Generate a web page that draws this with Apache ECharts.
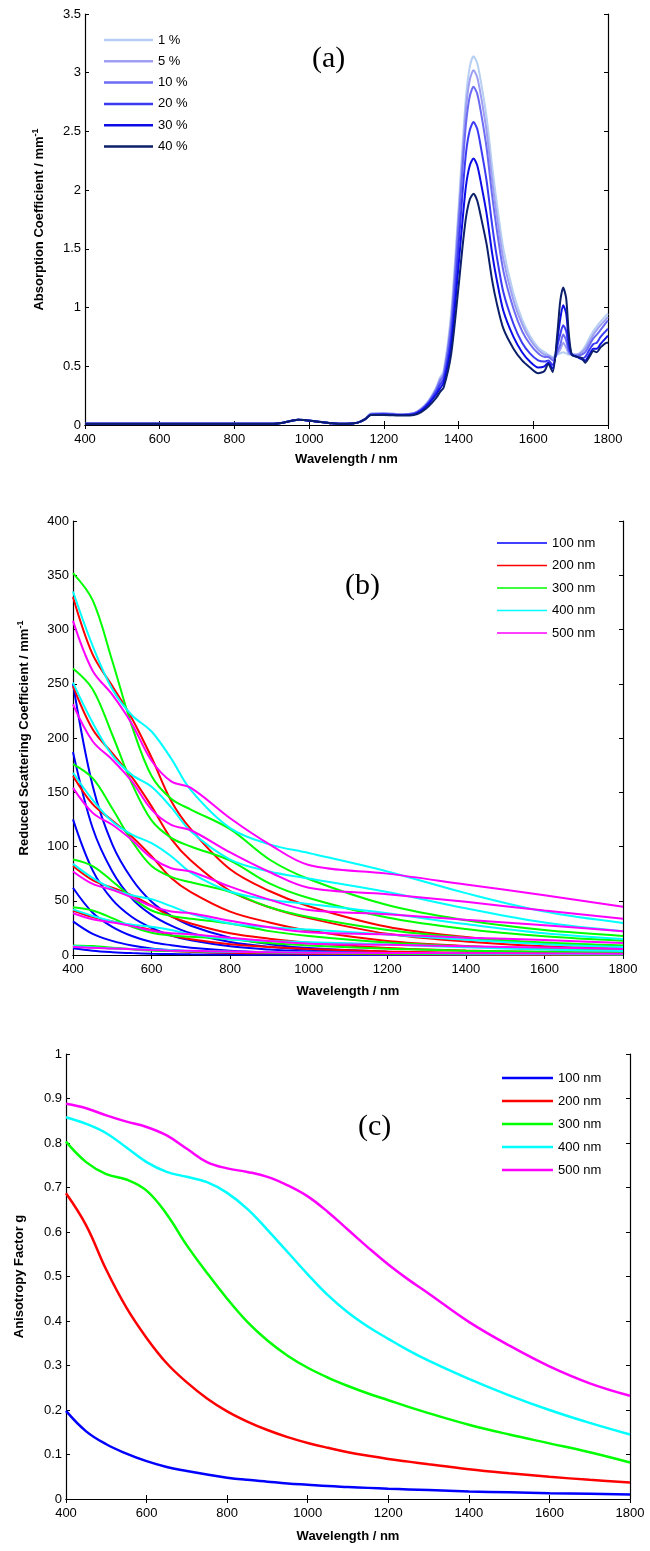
<!DOCTYPE html>
<html><head><meta charset="utf-8">
<script src="https://cdn.jsdelivr.net/npm/echarts@6/dist/echarts.min.js"></script>
<style>html,body{margin:0;padding:0;background:#fff}#c{width:650px;height:1551px}</style>
</head><body><div id="c"></div>
<script>
// ---------- Panel (a): absorption coefficient ----------
const wlA = [400,900,930,970,1010,1060,1100,1130,1150,1165,1200,1250,1280,1300,1320,1340,1350,1360,1380,1400,1410,1420,1430,1440,1450,1460,1475,1490,1502,1520,1547,1570,1591,1613,1630,1640,1652,1665,1672,1680,1688,1695,1703,1717,1730,1739,1750,1761,1770,1780,1797,1800];
const concNamesA = ['1 %','5 %','10 %','20 %','30 %','40 %'];
const absA1  = [0.01,0.01,0.02,0.045,0.035,0.015,0.01,0.02,0.05,0.1,0.1,0.09,0.1,0.14,0.21,0.32,0.4,0.46,0.95,1.85,2.35,2.8,3.05,3.14,3.08,2.92,2.62,2.2,1.9,1.5,1.12,0.9,0.76,0.66,0.62,0.6,0.58,0.6,0.61,0.62,0.61,0.6,0.6,0.6,0.63,0.67,0.74,0.8,0.84,0.88,0.94,0.95];
const absA5  = [0.01,0.01,0.02,0.045,0.035,0.015,0.01,0.02,0.05,0.095,0.1,0.09,0.1,0.14,0.2,0.31,0.39,0.44,0.9,1.78,2.26,2.7,2.94,3.02,2.96,2.8,2.5,2.08,1.79,1.41,1.06,0.86,0.73,0.64,0.6,0.59,0.57,0.61,0.64,0.7,0.66,0.61,0.6,0.6,0.62,0.65,0.71,0.77,0.81,0.85,0.91,0.92];
const absA10 = [0.01,0.01,0.02,0.045,0.035,0.015,0.01,0.02,0.05,0.09,0.095,0.09,0.1,0.13,0.2,0.3,0.37,0.42,0.85,1.7,2.16,2.57,2.8,2.88,2.82,2.66,2.36,1.95,1.67,1.31,0.99,0.8,0.69,0.61,0.58,0.58,0.55,0.63,0.68,0.77,0.72,0.63,0.6,0.59,0.6,0.62,0.68,0.74,0.77,0.81,0.88,0.89];
const absA20 = [0.01,0.01,0.02,0.045,0.035,0.015,0.01,0.02,0.05,0.09,0.09,0.085,0.095,0.13,0.19,0.28,0.34,0.39,0.76,1.53,1.95,2.32,2.51,2.58,2.52,2.36,2.08,1.7,1.44,1.13,0.86,0.7,0.61,0.55,0.54,0.55,0.51,0.68,0.77,0.85,0.8,0.66,0.6,0.58,0.57,0.58,0.64,0.69,0.7,0.75,0.81,0.82];
const absA30 = [0.01,0.01,0.02,0.045,0.035,0.015,0.01,0.02,0.05,0.085,0.09,0.085,0.09,0.12,0.18,0.26,0.31,0.36,0.68,1.36,1.72,2.04,2.21,2.27,2.21,2.06,1.8,1.46,1.24,0.97,0.75,0.62,0.54,0.49,0.5,0.53,0.48,0.74,0.9,1.02,0.95,0.72,0.6,0.58,0.56,0.55,0.6,0.65,0.65,0.69,0.75,0.76];
const absA40 = [0.01,0.01,0.02,0.045,0.035,0.015,0.01,0.02,0.05,0.085,0.085,0.08,0.085,0.11,0.16,0.23,0.28,0.32,0.6,1.18,1.5,1.77,1.92,1.97,1.91,1.77,1.54,1.23,1.04,0.82,0.65,0.55,0.49,0.44,0.46,0.52,0.45,0.8,1.05,1.17,1.08,0.78,0.6,0.58,0.57,0.53,0.58,0.63,0.62,0.66,0.7,0.7];
const colorsA = ['#b6cff3','#9e9ef3','#6b6bf4','#3a3af4','#0c0ce6','#0b1f6b'];

// ---------- Panel (b): reduced scattering coefficient ----------
const wlB = [400,450,500,550,600,650,700,800,900,1000,1200,1400,1600,1800];
const sizeNames = ['100 nm','200 nm','300 nm','400 nm','500 nm'];
const sizeColors = ['#0000ff','#ff0000','#00ff00','#00ffff','#ff00ff'];
// rows: 40 %, 30 %, 20 %, 10 %, 5 %, 1 %
const musp100 = [
 [250,156,102,70,49,36,27,16,10,6.4,3.1,1.7,1.0,0.6],
 [187,117,77,52,37,27,20,12,7.5,4.8,2.3,1.3,0.75,0.45],
 [125,78,51,35,25,18,13.5,8,5,3.2,1.6,0.85,0.5,0.3],
 [62,39,26,17.5,12,9,6.7,4,2.5,1.6,0.8,0.4,0.25,0.15],
 [31,19.5,13,8.8,6.1,4.5,3.4,2,1.25,0.8,0.4,0.2,0.12,0.08],
 [6.2,3.9,2.6,1.75,1.2,0.9,0.67,0.4,0.25,0.16,0.08,0.04,0.025,0.015]
];
const musp200 = [
 [330,277,248,218,182,142,116,79,59,45,26,16.5,10.6,7.3],
 [248,208,186,164,137,107,87,59,44,34,19.5,12.4,8,5.5],
 [165,139,124,109,91,71,58,40,30,22.5,13,8.3,5.3,3.7],
 [82,69,62,55,45.5,35.5,29,20,15,11.3,6.5,4.1,2.7,1.8],
 [41,35,31,27,23,18,14.5,10,7.4,5.6,3.3,2.1,1.3,0.9],
 [8.2,6.9,6.2,5.5,4.6,3.6,2.9,2,1.5,1.1,0.65,0.41,0.27,0.18]
];
const musp300 = [
 [352,327,271,211,165,144,134,116,88,70,46,32,23,17.6],
 [264,245,203,158,124,108,100,87,66,52.5,34.5,24,17.3,13.2],
 [176,163,135,105,82,72,67,58,44,35,23,16,11.5,8.8],
 [88,82,68,53,41,36,33.5,29,22,17.5,11.5,8,5.8,4.4],
 [44,41,34,26,20.6,18,16.8,14.5,11,8.8,5.8,4,2.9,2.2],
 [8.8,8.2,6.8,5.3,4.1,3.6,3.4,2.9,2.2,1.75,1.15,0.8,0.58,0.44]
];
const musp400 = [
 [335,285,245,221,206,181,152,117,102,94,77,57,40,29.5],
 [251,214,184,166,155,136,114,88,77,70.5,58,43,30,22],
 [168,143,123,111,103,91,76,58.5,51,47,38.5,28.5,20,14.8],
 [84,71,61,55,51.5,45,38,29,25.5,23.5,19,14,10,7.4],
 [42,36,31,28,26,23,19,14.6,12.8,11.8,9.6,7.1,5,3.7],
 [8.4,7.1,6.1,5.5,5.2,4.5,3.8,2.9,2.6,2.35,1.9,1.4,1,0.74]
];
const musp500 = [
 [308,262,240,213,179,160,154,126,102,83,75,65,55,44.5],
 [231,197,180,160,134,120,115,94.5,76.5,62,56,49,41,33.4],
 [154,131,120,106,89.5,80,77,63,51,41.5,37.5,32.5,27.5,22],
 [77,65.5,60,53,45,40,38.5,31.5,25.5,21,18.8,16,13.8,11],
 [38.5,33,30,26.6,22.4,20,19.2,15.8,12.8,10.4,9.4,8,6.9,5.6],
 [7.7,6.6,6,5.3,4.5,4,3.85,3.15,2.55,2.1,1.9,1.6,1.4,1.1]
];

// ---------- Panel (c): anisotropy factor ----------
const wlC = [400,450,500,550,600,650,700,750,800,850,900,950,1000,1050,1100,1150,1200,1250,1300,1400,1500,1600,1700,1800];
const g100 = [0.198,0.152,0.123,0.102,0.085,0.072,0.063,0.055,0.048,0.043,0.039,0.035,0.032,0.029,0.027,0.025,0.023,0.0215,0.02,0.017,0.015,0.013,0.012,0.01];
const g200 = [0.687,0.615,0.515,0.43,0.362,0.305,0.262,0.226,0.197,0.174,0.155,0.139,0.126,0.115,0.105,0.097,0.09,0.084,0.078,0.067,0.058,0.05,0.043,0.037];
const g300 = [0.803,0.757,0.73,0.718,0.693,0.64,0.57,0.508,0.45,0.398,0.356,0.322,0.295,0.273,0.254,0.237,0.222,0.207,0.193,0.167,0.145,0.125,0.105,0.082];
const g400 = [0.858,0.843,0.822,0.79,0.757,0.735,0.724,0.712,0.688,0.652,0.605,0.555,0.505,0.458,0.419,0.387,0.36,0.334,0.311,0.27,0.233,0.2,0.171,0.145];
const g500 = [0.888,0.878,0.862,0.848,0.836,0.817,0.787,0.757,0.743,0.735,0.724,0.705,0.68,0.645,0.605,0.565,0.527,0.493,0.462,0.398,0.345,0.298,0.26,0.232];

// ---------- build ----------
const FF = '"Liberation Sans", Arial, sans-serif';
const pair = (xs, ys) => xs.map((x, i) => [x, ys[i]]);
const plain = v => String(Math.round(v * 1000) / 1000);

const grids = [
  {left: 85, top: 14, width: 523, height: 411},
  {left: 73, top: 521, width: 550, height: 434},
  {left: 66, top: 1054, width: 564, height: 445}
];
const axisLineS = {show: true, lineStyle: {color: '#000', width: 1.2}};
const tickIn = {show: true, inside: true, length: 4, lineStyle: {color: '#000'}};
const lblS = {color: '#000', fontSize: 13, fontFamily: FF, formatter: plain};
function xAxes(gi, nameGap) {
  return [
    {type: 'value', gridIndex: gi, min: 400, max: 1800, interval: 200, position: 'bottom',
     axisLine: axisLineS, axisTick: tickIn, splitLine: {show: false},
     axisLabel: Object.assign({margin: 8}, lblS),
     name: 'Wavelength / nm', nameLocation: 'middle', nameGap: nameGap,
     nameTextStyle: {color: '#000', fontSize: 13, fontWeight: 'bold', fontFamily: FF}},
    {type: 'value', gridIndex: gi, min: 400, max: 1800, interval: 200, position: 'top',
     axisLine: axisLineS, axisTick: tickIn, splitLine: {show: false}, axisLabel: {show: false}}
  ];
}
function yAxes(gi, max, interval, name, nameGap, rich) {
  const left = {type: 'value', gridIndex: gi, min: 0, max: max, interval: interval, position: 'left',
     axisLine: axisLineS, axisTick: tickIn, splitLine: {show: false},
     axisLabel: Object.assign({margin: 4}, lblS),
     name: name, nameLocation: 'middle', nameGap: nameGap, nameRotate: 90,
     nameTextStyle: {color: '#000', fontSize: 13, fontWeight: 'bold', fontFamily: FF, rich: rich}};
  const right = {type: 'value', gridIndex: gi, min: 0, max: max, interval: interval, position: 'right',
     axisLine: axisLineS, axisTick: tickIn, splitLine: {show: false}, axisLabel: {show: false}};
  return [left, right];
}
const richSup = {
  t: {fontSize: 13, fontWeight: 'bold', fontFamily: FF, color: '#000'},
  s: {fontSize: 9, fontWeight: 'bold', fontFamily: FF, color: '#000', padding: [0, 0, 8, 0]}
};

const series = [];
const absSets = [absA1, absA5, absA10, absA20, absA30, absA40];
absSets.forEach((arr, i) => {
  series.push({name: concNamesA[i], type: 'line', xAxisIndex: 0, yAxisIndex: 0,
    data: pair(wlA, arr), symbol: 'none', smooth: 0.25, silent: true,
    lineStyle: {color: colorsA[i], width: 2}, itemStyle: {color: colorsA[i]}});
});
const muspSets = [musp100, musp200, musp300, musp400, musp500];
muspSets.forEach((rows, si) => {
  rows.forEach(row => {
    series.push({name: sizeNames[si], type: 'line', xAxisIndex: 2, yAxisIndex: 2,
      data: pair(wlB, row), symbol: 'none', smooth: 0.35, silent: true,
      lineStyle: {color: sizeColors[si], width: 2}, itemStyle: {color: sizeColors[si]}});
  });
});
const gSets = [g100, g200, g300, g400, g500];
gSets.forEach((arr, si) => {
  series.push({name: sizeNames[si], type: 'line', xAxisIndex: 4, yAxisIndex: 4,
    data: pair(wlC, arr), symbol: 'none', smooth: 0.4, silent: true,
    lineStyle: {color: sizeColors[si], width: 2.5}, itemStyle: {color: sizeColors[si]}});
});

const legTxt = {color: '#000', fontSize: 13, fontFamily: FF, lineHeight: 16};
const legItem = {borderWidth: 0, borderColor: 'transparent'};
const option = {
  animation: false,
  backgroundColor: '#fff',
  grid: grids,
  xAxis: [].concat(xAxes(0, 28), xAxes(1, 30), xAxes(2, 31)),
  yAxis: [].concat(
    yAxes(0, 3.5, 0.5, '{t|Absorption Coefficient / mm}{s|-1}', 37, richSup),
    yAxes(1, 400, 50, '{t|Reduced Scattering Coefficient / mm}{s|-1}', 40, richSup),
    yAxes(2, 1, 0.1, 'Anisotropy Factor g', 40, null)
  ),
  legend: [
    {data: concNamesA, orient: 'vertical', left: 104, top: 32, icon: 'rect', itemWidth: 49, itemHeight: 2.5, itemGap: 5.3,
     padding: 0, selectedMode: false, textStyle: legTxt, itemStyle: legItem},
    {data: sizeNames, orient: 'vertical', left: 497, top: 535, icon: 'rect', itemWidth: 50, itemHeight: 1.6, itemGap: 6.5,
     padding: 0, selectedMode: false, textStyle: legTxt, itemStyle: legItem},
    {data: sizeNames, orient: 'vertical', left: 502, top: 1070, icon: 'rect', itemWidth: 51, itemHeight: 2.5, itemGap: 7,
     padding: 0, selectedMode: false, textStyle: legTxt, itemStyle: legItem}
  ],
  graphic: [
    {type: 'text', left: 312, top: 44, style: {text: '(a)', font: '30px "Liberation Serif", "Times New Roman", serif', fill: '#000'}},
    {type: 'text', left: 345, top: 571, style: {text: '(b)', font: '30px "Liberation Serif", "Times New Roman", serif', fill: '#000'}},
    {type: 'text', left: 358, top: 1112, style: {text: '(c)', font: '30px "Liberation Serif", "Times New Roman", serif', fill: '#000'}}
  ],
  series: series
};
const chart = echarts.init(document.getElementById('c'), null, {renderer: 'canvas'});
chart.setOption(option);
</script></body></html>
